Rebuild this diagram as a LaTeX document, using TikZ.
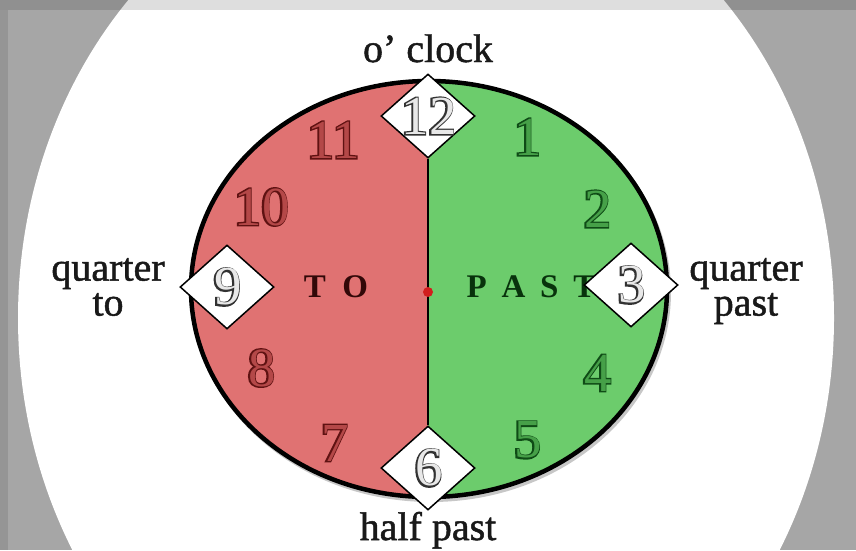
\documentclass[tikz,border=0pt]{standalone}
\usepackage{fontspec}
\setmainfont{Liberation Serif}
\newfontfamily\labelfont[FakeBold=1.2]{Liberation Serif}
\newfontfamily\numfont{Liberation Serif}
\newfontfamily\numfontbold[FakeBold=5]{Liberation Serif}
\usetikzlibrary{shapes.geometric}
\definecolor{bggray}{RGB}{166,166,166}
\definecolor{clockred}{RGB}{224,114,114}
\definecolor{clockgreen}{RGB}{108,204,108}
\definecolor{numdarkred}{RGB}{95,18,18}
\definecolor{numlightred}{RGB}{180,72,72}
\definecolor{numdarkgreen}{RGB}{15,75,22}
\definecolor{numlightgreen}{RGB}{70,160,72}
\definecolor{numdarkgray}{RGB}{50,50,50}
\definecolor{numlightgray}{RGB}{232,232,232}
\definecolor{labelblack}{RGB}{25,25,25}
\definecolor{todark}{RGB}{50,8,8}
\definecolor{pastdark}{RGB}{8,50,12}
\definecolor{dotred}{RGB}{210,30,30}
\newcommand\clocknum[5]{%
  \node[numdark, text=#4] (#1) at (#2) {#3};
  \node[numlight, text=#5, xshift=1pt] (#1i) at (#2) {#3};}
\begin{document}
\begin{tikzpicture}[x=1pt,y=-1pt,
  diam/.style={diamond, draw=black, line width=1.5pt, fill=white,
    minimum width=94pt, minimum height=84pt, inner sep=0pt},
  lbl/.style={font=\labelfont\fontsize{40}{35}\selectfont, text=labelblack, inner sep=0pt, align=center},
  numdark/.style={font=\numfontbold\fontsize{55}{55}\selectfont, inner sep=0pt},
  numlight/.style={font=\numfont\fontsize{55}{55}\selectfont, inner sep=0pt},
  word/.style={font=\bfseries\fontsize{33}{33}\selectfont, inner sep=0pt}]
\useasboundingbox (0,0) rectangle (856,550);
% background
\fill[bggray] (0,0) rectangle (856,550);
\fill[white] (426,318) ellipse [x radius=408pt, y radius=465pt];
\fill[black, opacity=0.13] (0,0) rectangle (856,10);
\fill[black, opacity=0.10] (0,10) rectangle (8,550);
% clock face
\coordinate (c) at (429,289);
\fill[black, opacity=0.22] (431,292) ellipse [x radius=240pt, y radius=210pt];
\begin{scope}
  \clip (c) ellipse [x radius=238pt, y radius=208pt];
  \fill[clockred] (180,70) rectangle (428,510);
  \fill[clockgreen] (428,70) rectangle (680,510);
\end{scope}
\draw[line width=4.5pt] (c) ellipse [x radius=238pt, y radius=208pt];
% words
\node[word, text=todark] (to) at (336,287) {T\hspace{0.5em}O};
\node[word, text=pastdark] (past) at (531,287) {P\hspace{0.45em}A\hspace{0.45em}S\hspace{0.45em}T};
% diamonds
\node[diam] (d12) at (428,116) {};
\node[diam] (d9) at (227,287) {};
\node[diam] (d3) at (631,285) {};
\node[diam] (d6) at (428,468) {};
\draw[line width=1.3pt] (d12.south) -- (d6.north);
\node[circle, fill=dotred, inner sep=0pt, minimum size=10pt] (ctr) at (428,292) {};
% numbers
\clocknum{n12}{428,116}{12}{numdarkgray}{numlightgray}
\clocknum{n9}{227,287}{9}{numdarkgray}{numlightgray}
\clocknum{n3}{631,285}{3}{numdarkgray}{numlightgray}
\clocknum{n6}{428,468}{6}{numdarkgray}{numlightgray}
\clocknum{n11}{333,140}{11}{numdarkred}{numlightred}
\clocknum{n10}{261,207}{10}{numdarkred}{numlightred}
\clocknum{n8}{261,368}{8}{numdarkred}{numlightred}
\clocknum{n7}{334,443}{7}{numdarkred}{numlightred}
\clocknum{n1}{527,137}{1}{numdarkgreen}{numlightgreen}
\clocknum{n2}{597,209}{2}{numdarkgreen}{numlightgreen}
\clocknum{n4}{597,373}{4}{numdarkgreen}{numlightgreen}
\clocknum{n5}{527,440}{5}{numdarkgreen}{numlightgreen}
% labels
\node[lbl, anchor=base] (oclock) at (428,62) {o’ clock};
\node[lbl] (qto) at (108,287) {quarter\\to};
\node[lbl] (qpast) at (746,291) {quarter\\past};
\node[lbl, anchor=base] (hpast) at (428,540) {half past};
\end{tikzpicture}
\end{document}
